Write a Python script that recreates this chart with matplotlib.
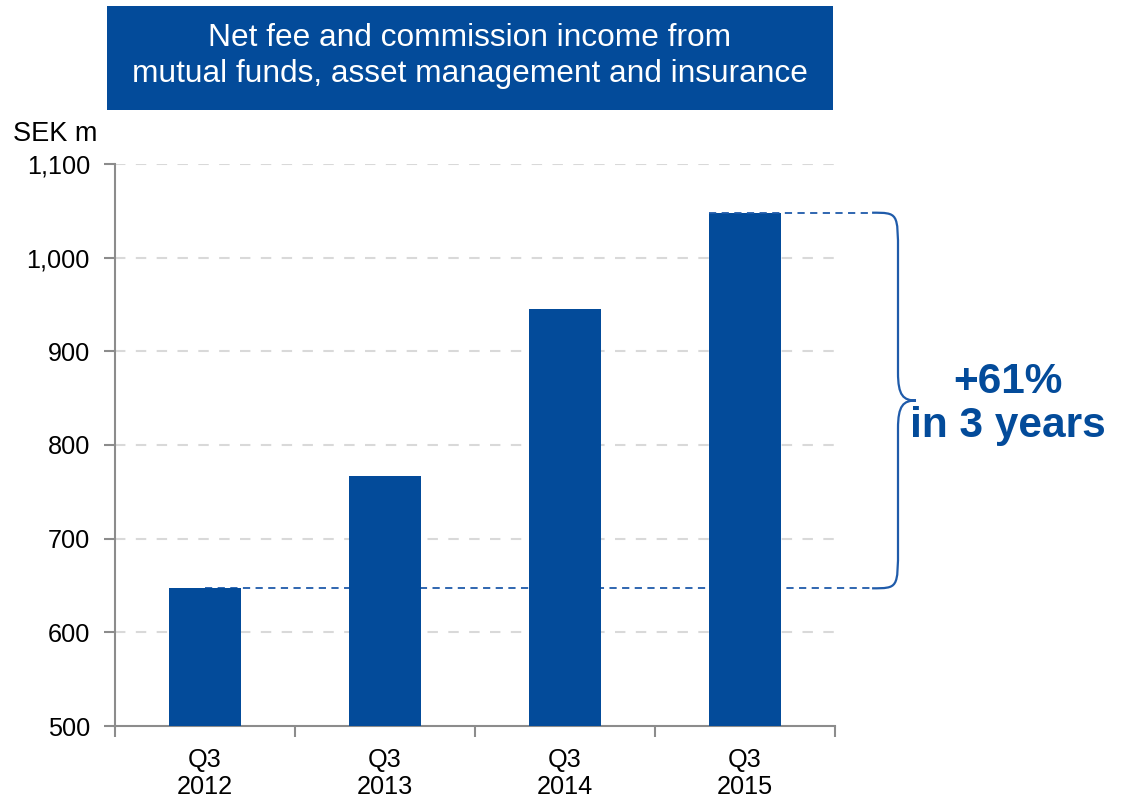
import matplotlib
matplotlib.use("Agg")
import matplotlib.pyplot as plt
from matplotlib.patches import Rectangle, PathPatch
from matplotlib.path import Path

plt.rcParams['font.family'] = ['Liberation Sans', 'DejaVu Sans']

categories = ["Q3\n2012", "Q3\n2013", "Q3\n2014", "Q3\n2015"]
values = [647, 767, 945, 1048]
yticks = [500, 600, 700, 800, 900, 1000, 1100]
ytick_labels = ["500", "600", "700", "800", "900", "1,000", "1,100"]
title = "Net fee and commission income from\nmutual funds, asset management and insurance"
unit_label = "SEK m"
growth_text = "+61%\nin 3 years"

BLUE = "#034B9A"
LINE_BLUE = "#1F5BAA"
GRID = "#D9D9D9"
SPINE = "#8C8C8C"

W, H = 1122, 802
fig = plt.figure(figsize=(W / 100, H / 100), dpi=100)
ax = fig.add_axes([115 / W, 1 - 726 / H, (835 - 115) / W, (726 - 164) / H])

x = list(range(len(values)))
ax.bar(x, values, width=0.4, color=BLUE, zorder=3)
ax.set_xlim(-0.5, len(values) - 0.5)
ax.set_ylim(500, 1100)

ax.set_yticks(yticks)
ax.set_yticklabels(ytick_labels, fontsize=18.2)
for yv in yticks[1:]:
    ax.axhline(yv, color=GRID, lw=1.5, ls=(0, (5, 5)), zorder=1)

ax.set_xticks(x)
ax.set_xticklabels(categories, fontsize=18.2, linespacing=1.15)
ax.set_xticks([i - 0.5 for i in range(len(values) + 1)], minor=True)
ax.tick_params(axis='x', which='major', length=0, pad=16)
ax.tick_params(axis='x', which='minor', length=8, width=1.5, color=SPINE, direction='out')
ax.tick_params(axis='y', length=8, width=1.5, color=SPINE, pad=10)

for s in ['top', 'right']:
    ax.spines[s].set_visible(False)
for s in ['left', 'bottom']:
    ax.spines[s].set_color(SPINE)
    ax.spines[s].set_linewidth(1.5)

# reference dashed lines
xs = 3.706
ax.plot([x[0], xs], [values[0], values[0]], color=LINE_BLUE, lw=1.3, ls=(0, (4, 3)),
        clip_on=False, zorder=2)
ax.plot([x[-1] - 0.2, xs], [values[-1], values[-1]], color=LINE_BLUE, lw=1.3, ls=(0, (4, 3)),
        clip_on=False, zorder=4)

# brace
top, bot = values[-1], values[0]
mid = (top + bot) / 2
xv, xt = 3.85, 3.95
verts = [
    (xs, top), (xv, top), (xv, top), (xv, top - 45),
    (xv, mid + 30),
    (xv, mid + 5), (xv + 0.03, mid), (xt, mid),
    (xv + 0.03, mid), (xv, mid - 5), (xv, mid - 30),
    (xv, bot + 45),
    (xv, bot), (xv, bot), (xs, bot),
]
codes = [Path.MOVETO, Path.CURVE4, Path.CURVE4, Path.CURVE4,
         Path.LINETO,
         Path.CURVE4, Path.CURVE4, Path.CURVE4,
         Path.CURVE4, Path.CURVE4, Path.CURVE4,
         Path.LINETO,
         Path.CURVE4, Path.CURVE4, Path.CURVE4]
ax.add_patch(PathPatch(Path(verts, codes), fill=False, edgecolor=LINE_BLUE, lw=1.6,
                       clip_on=False, zorder=4))

ax.text(4.46, mid - 4, growth_text, ha='center', va='center', fontsize=30.5,
        fontweight='bold', color=BLUE, linespacing=1.12, clip_on=False)

# title box
fig.patches.append(Rectangle((107 / W, 1 - 110 / H), (833 - 107) / W, (110 - 6) / H,
                             transform=fig.transFigure, facecolor=BLUE, edgecolor='none',
                             zorder=0))
fig.text(470 / W, 1 - 56 / H, title, ha='center', va='center', fontsize=22.8,
         color='white', linespacing=1.25)

fig.text(13 / W, 1 - 134 / H, unit_label, ha='left', va='center', fontsize=19.5)

fig.savefig("out.png", dpi=100)
